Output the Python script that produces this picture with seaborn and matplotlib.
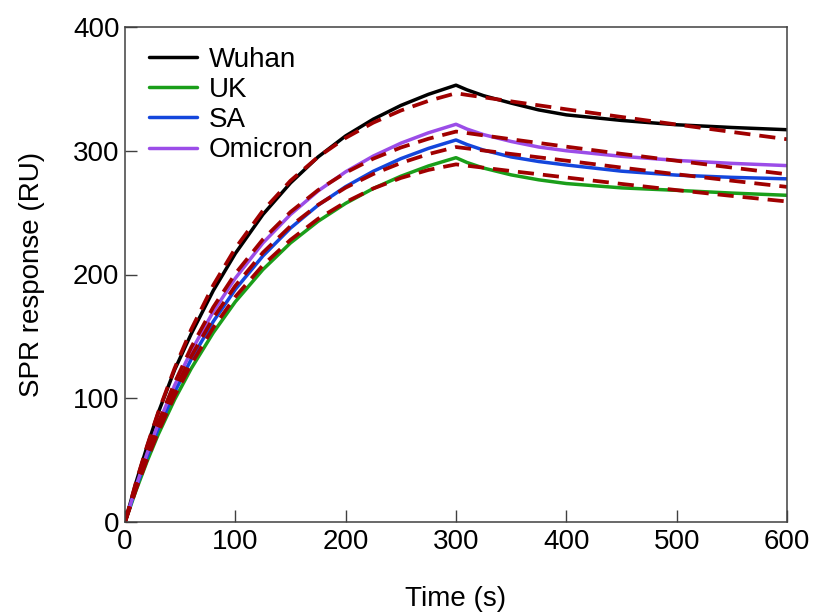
import numpy as np
import pandas as pd
import matplotlib
matplotlib.use('Agg')
import matplotlib.pyplot as plt
import seaborn as sns

# 时间点 (s)
time = [0, 10, 20, 30, 45, 60, 80, 100, 125, 150, 175, 200, 225, 250, 275, 300,
        310, 325, 350, 375, 400, 450, 500, 550, 600]

# 实测曲线 (RU)
wuhan = [0, 32, 61, 88, 123, 152, 187, 217, 248.5, 274, 295, 312, 325.5, 336.6, 345.6, 353,
         349.2, 344.5, 338.5, 333, 329, 324.5, 321, 318.8, 317]
uk = [0, 25.5, 49, 70.5, 99, 124, 153, 178, 204, 225.5, 243, 257.5, 269.5, 279.4, 287.7, 294.4,
      290.5, 286, 280.5, 276.5, 273.5, 270, 268, 265.8, 264]
sa = [0, 27.5, 52.5, 75, 105, 131.5, 162, 188, 215, 237.5, 256, 271, 283.4, 293.6, 301.9, 308.7,
      305, 300.5, 295, 291.3, 288.5, 283.5, 280.3, 278.5, 277.3]
omicron = [0, 29, 55.5, 79, 110.5, 138, 170, 197, 225.5, 248.5, 267.5, 283, 295.7, 306.1, 314.5, 321.4,
           317.5, 313, 307.5, 303, 300, 295.5, 292.2, 289.8, 288]

# 拟合曲线 (RU)
wuhan_fit = [0, 32.2, 61.5, 88.4, 124.3, 155.6, 191.4, 221.2, 251.6, 275.8, 295, 310.4, 322.7, 332.5, 340.3, 346.5,
             345.1, 343.2, 339.9, 336.7, 333.5, 327.3, 321.2, 315.2, 309.3]
uk_fit = [0, 26.5, 50.5, 72.5, 102, 127.5, 157, 182, 207.5, 228, 245, 258.5, 269.5, 278, 284.5, 289,
          287.9, 286.3, 283.6, 281, 278.4, 273.2, 268.2, 263.5, 259]
sa_fit = [0, 27.5, 52.7, 75.7, 106.7, 133.8, 164.9, 190.9, 217.7, 239.1, 256.3, 270.2, 281.2, 290.1, 297.3, 303,
          301.9, 300.2, 297.4, 294.7, 292, 286.4, 281, 275.8, 270.8]
omicron_fit = [0, 29.1, 55.7, 80, 112.6, 141.1, 173.6, 200.7, 228.4, 250.5, 268.2, 282.3, 293.6, 302.6, 309.7, 315.5,
               314.3, 312.4, 309.3, 306.3, 303.3, 297.5, 291.9, 286.4, 281]

variants = ['Wuhan', 'UK', 'SA', 'Omicron']
colors = ['#000000', '#1a9e1a', '#1446dc', '#9b4de8']
fit_color = '#a00000'

# 整理成长表
rows = []
for name, vals, fits in zip(variants, [wuhan, uk, sa, omicron], [wuhan_fit, uk_fit, sa_fit, omicron_fit]):
    for t, v, f in zip(time, vals, fits):
        rows.append({'Time': t, 'Response': v, 'Fit': f, 'Variant': name})
df = pd.DataFrame(rows)

sns.set_style('white')
plt.rcParams['font.family'] = ['Liberation Sans', 'DejaVu Sans']
plt.rcParams['text.color'] = 'black'
plt.rcParams['axes.labelcolor'] = 'black'
plt.rcParams['xtick.color'] = 'black'
plt.rcParams['ytick.color'] = 'black'

fs = 20

fig = plt.figure(figsize=(8.14, 6.12), dpi=100)
ax = fig.add_axes([125 / 814, 1 - 522 / 612, 662 / 814, 495 / 612])

# 实测曲线
sns.lineplot(data=df, x='Time', y='Response', hue='Variant', hue_order=variants,
             palette=colors, linewidth=2.5, ax=ax, sort=False, estimator=None)
# 拟合虚线
for name in variants:
    sub = df[df['Variant'] == name]
    sns.lineplot(data=sub, x='Time', y='Fit', color=fit_color, linewidth=2.7,
                 ax=ax, sort=False, estimator=None, legend=False,
                 linestyle=(0, (4.3, 2.4)))

ax.set_xlim(0, 600)
ax.set_ylim(0, 400)
ax.set_xticks([0, 100, 200, 300, 400, 500, 600])
ax.set_yticks([0, 100, 200, 300, 400])
ax.tick_params(axis='both', direction='in', length=8.5, width=1, color='#404040',
               labelsize=fs, bottom=True, left=True, top=False, right=False)
ax.tick_params(axis='x', pad=5)
ax.tick_params(axis='y', pad=4)
for s in ax.spines.values():
    s.set_color('#404040')
    s.set_linewidth(1.1)

ax.set_xlabel('Time (s)', fontsize=fs, labelpad=22)
ax.set_ylabel('SPR response (RU)', fontsize=fs, labelpad=20)

ax.legend(loc='upper left', bbox_to_anchor=(0.036, 0.96), frameon=False, fontsize=fs,
          handlelength=1.75, handletextpad=0.4, labelspacing=0.15, borderpad=0, borderaxespad=0)

fig.savefig('out.png', dpi=100)
